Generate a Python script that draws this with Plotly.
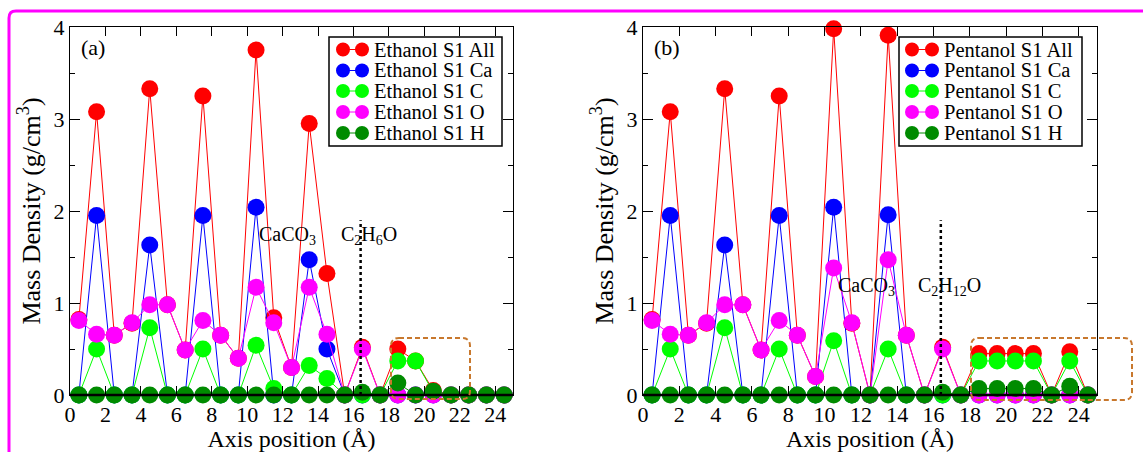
import plotly.graph_objects as go

# ---------------- data ----------------
positions = [0.5, 1.5, 2.5, 3.5, 4.5, 5.5, 6.5, 7.5, 8.5, 9.5, 10.5, 11.5, 12.5,
             13.5, 14.5, 15.5, 16.5, 17.5, 18.5, 19.5, 20.5, 21.5, 22.5, 23.5, 24.5]

eth_all = [0.82, 3.08, 0.65, 0.78, 3.33, 0.98, 0.49, 3.25, 0.65, 0.40, 3.75, 0.84, 0.30,
           2.95, 1.32, 0.0, 0.52, 0.0, 0.50, 0.37, 0.05, 0.0, 0.0, 0.0, 0.0]
eth_ca = [0.0, 1.95, 0.0, 0.0, 1.63, 0.0, 0.0, 1.95, 0.0, 0.0, 2.04, 0.0, 0.0,
          1.47, 0.50, 0.0, 0.0, 0.0, 0.0, 0.0, 0.0, 0.0, 0.0, 0.0, 0.0]
eth_c = [0.0, 0.50, 0.0, 0.0, 0.73, 0.0, 0.0, 0.50, 0.0, 0.0, 0.54, 0.07, 0.0,
         0.32, 0.18, 0.0, 0.0, 0.0, 0.37, 0.37, 0.03, 0.0, 0.0, 0.0, 0.0]
eth_o = [0.81, 0.66, 0.65, 0.785, 0.98, 0.98, 0.49, 0.81, 0.65, 0.40, 1.17, 0.785, 0.30,
         1.17, 0.66, 0.0, 0.50, 0.0, 0.0, 0.0, 0.0, 0.0, 0.0, 0.0, 0.0]
eth_h = [0.0, 0.0, 0.0, 0.0, 0.0, 0.0, 0.0, 0.0, 0.0, 0.0, 0.0, 0.0, 0.0,
         0.0, 0.0, 0.0, 0.03, 0.0, 0.13, 0.0, 0.04, 0.0, 0.0, 0.0, 0.0]

pen_all = [0.82, 3.08, 0.65, 0.78, 3.33, 0.98, 0.49, 3.25, 0.65, 0.20, 3.98, 0.78, 0.0,
           3.91, 0.65, 0.0, 0.52, 0.0, 0.45, 0.45, 0.45, 0.45, 0.0, 0.47, 0.0]
pen_ca = [0.0, 1.95, 0.0, 0.0, 1.63, 0.0, 0.0, 1.95, 0.0, 0.0, 2.04, 0.0, 0.0,
          1.96, 0.0, 0.0, 0.0, 0.0, 0.0, 0.0, 0.0, 0.0, 0.0, 0.0, 0.0]
pen_c = [0.0, 0.50, 0.0, 0.0, 0.73, 0.0, 0.0, 0.50, 0.0, 0.0, 0.59, 0.0, 0.0,
         0.50, 0.0, 0.0, 0.0, 0.0, 0.37, 0.37, 0.37, 0.37, 0.0, 0.37, 0.0]
pen_o = [0.81, 0.66, 0.65, 0.785, 0.98, 0.98, 0.49, 0.81, 0.65, 0.20, 1.38, 0.785, 0.0,
         1.47, 0.65, 0.0, 0.50, 0.0, 0.0, 0.0, 0.0, 0.0, 0.0, 0.0, 0.0]
pen_h = [0.0, 0.0, 0.0, 0.0, 0.0, 0.0, 0.0, 0.0, 0.0, 0.0, 0.0, 0.0, 0.0,
         0.0, 0.0, 0.0, 0.03, 0.0, 0.07, 0.07, 0.07, 0.07, 0.0, 0.095, 0.0]

eth_names = ["Ethanol S1 All", "Ethanol S1 Ca", "Ethanol S1 C", "Ethanol S1 O", "Ethanol S1 H"]
pen_names = ["Pentanol S1 All", "Pentanol S1 Ca", "Pentanol S1 C", "Pentanol S1 O", "Pentanol S1 H"]
colors = ["#ff0000", "#0000ff", "#00ff00", "#ff00ff", "#008b00"]

x_ticks = list(range(0, 25, 2))
y_ticks = [0, 1, 2, 3, 4]

# ---------------- layout helpers ----------------
W, H = 1143, 452
FONT = "Liberation Serif, Times New Roman, Times, serif"


def px(x):
    return x / W


def py(y):
    return 1 - y / H


PA = (70, 513)     # panel a left/right pixel
PB = (643, 1097)   # panel b left/right pixel
PT, PBOT = 27, 395  # top / bottom pixel

fig = go.Figure()

for series, names, xa, ya in [
    ([eth_all, eth_ca, eth_c, eth_o, eth_h], eth_names, "x", "y"),
    ([pen_all, pen_ca, pen_c, pen_o, pen_h], pen_names, "x2", "y2"),
]:
    for vals, name, col in zip(series, names, colors):
        fig.add_trace(go.Scatter(
            x=positions, y=vals, name=name, mode="lines+markers",
            line=dict(color=col, width=1),
            marker=dict(color=col, size=17, line=dict(width=0)),
            cliponaxis=False, showlegend=False, xaxis=xa, yaxis=ya,
        ))


def xaxis_cfg(dom, anchor):
    return dict(
        domain=[px(dom[0]), px(dom[1])], anchor=anchor, range=[0, 25],
        tickvals=x_ticks, ticks="inside", ticklen=9, tickwidth=1, tickcolor="black",
        showline=True, linewidth=1, linecolor="black", mirror="ticks",
        showgrid=False, zeroline=False, automargin=False,
        tickfont=dict(family=FONT, size=22, color="black"),
        title=dict(text="Axis position (Å)", font=dict(family=FONT, size=24, color="black"),
                   standoff=3),
    )


def yaxis_cfg(anchor):
    return dict(
        domain=[py(PBOT), py(PT)], anchor=anchor, range=[0, 4],
        tickvals=y_ticks, ticks="inside", ticklen=10, tickwidth=1, tickcolor="black",
        minor=dict(dtick=0.5, ticks="inside", ticklen=5, tickwidth=1, tickcolor="black"),
        showline=True, linewidth=1, linecolor="black", mirror="ticks",
        showgrid=False, zeroline=False, automargin=False,
        tickfont=dict(family=FONT, size=22, color="black"),
        title=dict(text="Mass Density (g/cm<sup>3</sup>)",
                   font=dict(family=FONT, size=26, color="black"), standoff=5),
    )


shapes = []
annotations = []

# thick base line at y = 0
for (l, r) in (PA, PB):
    shapes.append(dict(type="line", xref="paper", yref="paper", x0=px(l), x1=px(r),
                       y0=py(PBOT), y1=py(PBOT), line=dict(color="black", width=2.5),
                       layer="above"))

# dotted interface markers
for xr, yr in (("x", "y"), ("x2", "y2")):
    shapes.append(dict(type="line", xref=xr, yref=yr, x0=16.4, x1=16.4, y0=0, y1=1.9,
                       line=dict(color="black", width=2.5, dash="dot"), layer="above"))


def rounded_path(x0, y0, x1, y1, r):
    X = lambda v: f"{px(v):.5f}"
    Y = lambda v: f"{py(v):.5f}"
    pts = [
        f"M {X(x0 + r)},{Y(y0)}",
        f"L {X(x1 - r)},{Y(y0)}",
        f"Q {X(x1)},{Y(y0)} {X(x1)},{Y(y0 + r)}",
        f"L {X(x1)},{Y(y1 - r)}",
        f"Q {X(x1)},{Y(y1)} {X(x1 - r)},{Y(y1)}",
        f"L {X(x0 + r)},{Y(y1)}",
        f"Q {X(x0)},{Y(y1)} {X(x0)},{Y(y1 - r)}",
        f"L {X(x0)},{Y(y0 + r)}",
        f"Q {X(x0)},{Y(y0)} {X(x0 + r)},{Y(y0)}",
        "Z",
    ]
    return " ".join(pts)


# orange dashed highlight boxes
for box in ((391, 338, 470, 399), (971, 338, 1132, 400)):
    shapes.append(dict(type="path", xref="paper", yref="paper", path=rounded_path(*box, 8),
                       line=dict(color="#c8782d", width=2, dash="5px,3px"), layer="above"))

# magenta outer frame
fx, fy, fr = 9, 11, 7
frame_path = (f"M {px(fx):.5f},{py(H + 20):.5f} L {px(fx):.5f},{py(fy + fr):.5f} "
              f"Q {px(fx):.5f},{py(fy):.5f} {px(fx + fr):.5f},{py(fy):.5f} "
              f"L {px(W + 20):.5f},{py(fy):.5f}")
shapes.append(dict(type="path", xref="paper", yref="paper", path=frame_path,
                   line=dict(color="#ff00ff", width=3), layer="above"))

# manual legends
row_y = [49.5, 70.5, 91, 112, 133]
for box, m0, m1, tx, names in (
    ((329, 37, 502, 146), 343, 362, 372, eth_names),
    ((899, 37, 1082, 146), 912, 932, 942, pen_names),
):
    shapes.append(dict(type="rect", xref="paper", yref="paper",
                       x0=px(box[0]), x1=px(box[2]), y0=py(box[3]), y1=py(box[1]),
                       line=dict(color="black", width=1.5), fillcolor="white", layer="above"))
    for ry, name, col in zip(row_y, names, colors):
        shapes.append(dict(type="line", xref="paper", yref="paper", x0=px(m0), x1=px(m1),
                           y0=py(ry), y1=py(ry), line=dict(color=col, width=1), layer="above"))
        for mx in (m0, m1):
            shapes.append(dict(type="circle", xref="paper", yref="paper",
                               xsizemode="pixel", ysizemode="pixel",
                               xanchor=px(mx), yanchor=py(ry), x0=-7, x1=7, y0=-7, y1=7,
                               fillcolor=col, line=dict(width=0), layer="above"))
        annotations.append(dict(text=name, xref="paper", yref="paper", x=px(tx), y=py(ry),
                                xanchor="left", yanchor="middle", showarrow=False,
                                font=dict(family=FONT, size=20.5, color="black")))

text_items = [
    ("(a)", 79, 47, 22),
    ("(b)", 652, 47, 22),
    ("CaCO<sub>3</sub>", 257, 235, 20),
    ("C<sub>2</sub>H<sub>6</sub>O", 339, 235, 20),
    ("CaCO<sub>3</sub>", 836, 286, 20),
    ("C<sub>2</sub>H<sub>12</sub>O", 916, 286, 20),
]
for t, x, y, s in text_items:
    annotations.append(dict(text=t, xref="paper", yref="paper", x=px(x), y=py(y),
                            xanchor="left", yanchor="middle", showarrow=False,
                            font=dict(family=FONT, size=s, color="black")))

fig.update_layout(
    width=W, height=H, autosize=False,
    margin=dict(l=0, r=0, t=0, b=0, pad=0, autoexpand=False),
    paper_bgcolor="white", plot_bgcolor="white",
    font=dict(family=FONT, color="black"),
    xaxis=xaxis_cfg(PA, "y"),
    yaxis=yaxis_cfg("x"),
    xaxis2=xaxis_cfg(PB, "y2"),
    yaxis2=yaxis_cfg("x2"),
    shapes=shapes,
    annotations=annotations,
    showlegend=False,
)

# remove the page's default body margin so the figure sits at the window origin
fig.write_html("out.html", config={"displayModeBar": False},
               post_script="document.body.style.margin='0';")
